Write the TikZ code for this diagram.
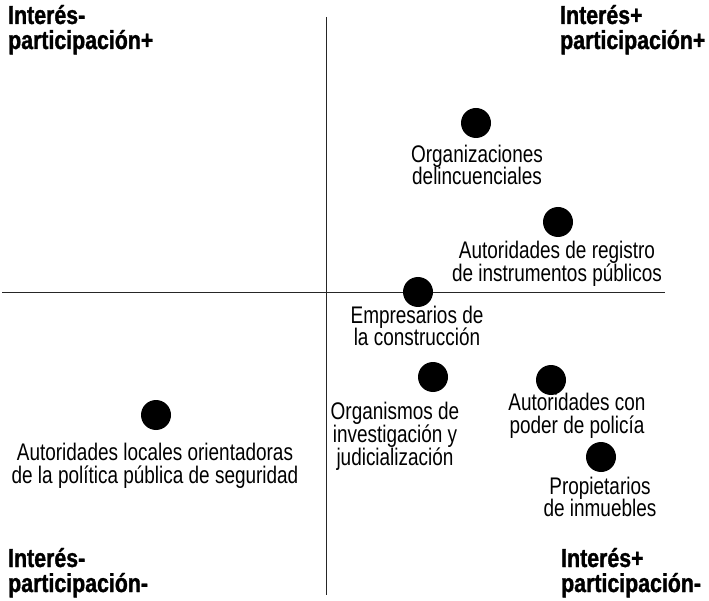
\documentclass[tikz,border=0pt]{standalone}
\usepackage{fontspec}
\newfontfamily\labfont[FakeStretch=0.79]{Liberation Sans}
\newfontfamily\corfont[FakeStretch=0.82,FakeBold=1.2]{Liberation Sans Bold}
\begin{document}
\begin{tikzpicture}[x=1pt,y=-1pt,
  axis/.style={draw=black!85, line width=1pt},
  dot/.style={circle, fill=black, minimum size=30pt, inner sep=0pt},
  lab/.style={align=center, inner sep=0pt, font=\labfont\fontsize{24}{22.8}\selectfont},
  corner/.style={align=left, inner sep=0pt, anchor=base west, font=\corfont\fontsize{26}{25}\selectfont}]
\useasboundingbox (0,0) rectangle (709,601);
% axes
\coordinate (vtop) at (326,17);
\coordinate (vbot) at (326,595);
\coordinate (hleft) at (2,293);
\coordinate (hright) at (665,293);
\draw[axis] (vtop) -- (vbot);
\draw[axis] (hleft) -- (hright);
% corner labels
\node[corner] (tl) at (8,24) {Interés-};
\node[corner] (tl2) at (8,49) {participación+};
\node[corner] (tr) at (560,24) {Interés+};
\node[corner] (tr2) at (560,49) {participación+};
\node[corner] (bl) at (8,567) {Interés-};
\node[corner] (bl2) at (8,592) {participación-};
\node[corner] (br) at (561,567) {Interés+};
\node[corner] (br2) at (561,592) {participación-};
% dots
\node[dot] (d1) at (476,123) {};
\node[dot] (d2) at (558,222) {};
\node[dot] (d3) at (418,292) {};
\node[dot] (d4) at (156,415) {};
\node[dot] (d5) at (433,377) {};
\node[dot] (d6) at (551,380) {};
\node[dot] (d7) at (601,457) {};
% labels
\node[lab] (l1) at (477,165) {Organizaciones\\delincuenciales};
\node[lab] (l2) at (557,264) {Autoridades de registro\\de instrumentos públicos};
\node[lab] (l3) at (417,326) {Empresarios de\\la construcción};
\node[lab] (l4) at (155,466) {Autoridades locales orientadoras\\de la política pública de seguridad};
\node[lab] (l5) at (395,436) {Organismos de\\investigación y\\judicialización};
\node[lab] (l6) at (577,416) {Autoridades con\\poder de policía};
\node[lab] (l7) at (600,497) {Propietarios\\de inmuebles};
\end{tikzpicture}
\end{document}
